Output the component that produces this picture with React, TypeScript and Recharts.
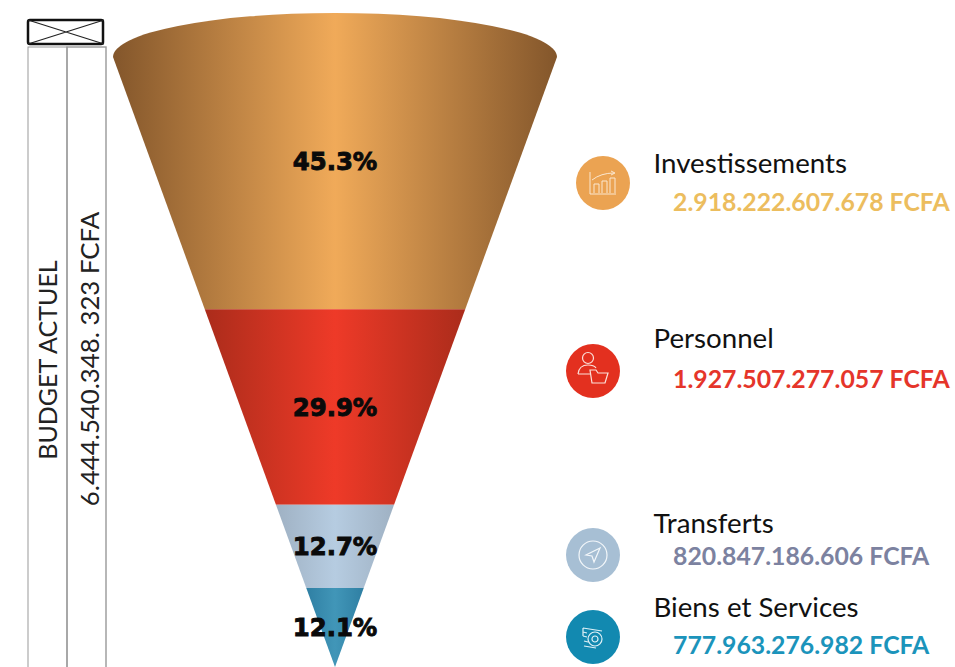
import React from 'react';
import { BarChart, Bar, XAxis, YAxis, LabelList } from 'recharts';

const categories = ['Investissements', 'Personnel', 'Transferts', 'Biens et Services'];
const amounts = [2918222607678, 1927507277057, 820847186606, 777963276982];
const shares = ['45.3%', '29.9%', '12.7%', '12.1%'];
const totalLabel = '6.444.540.348. 323 FCFA';
const budgetLabel = 'BUDGET ACTUEL';

const gradientEdges = ['#83562b', '#ab2c1b', '#9fb1c3', '#2f7fa3'];
const gradientCentres = ['#f0aa59', '#ee3a28', '#b6cce1', '#4196b8'];
const iconColors = ['#eba352', '#e3301f', '#a7bfd4', '#1289b0'];
const amountColors = ['#ecbd5e', '#e5352a', '#7c82a0', '#1b94bb'];

const row: Record<string, string | number> = { name: 'Budget' };
categories.forEach((c, i) => { row[c] = amounts[i]; });
const chartData = [row];
const total = amounts.reduce((a, b) => a + b, 0);

const formatAmount = (n: number) => String(n).replace(/\B(?=(\d{3})+$)/g, '.') + ' FCFA';

const RIM = 44; // height of the half ellipse closing the top of the cone

function ConeSlice(props: any) {
  const { x, y, width, height, background, gradient, first } = props;
  const apexY = background.y + background.height;
  const rimY = background.y + RIM;
  const mid = x + width / 2;
  const half = (py: number) => ((width / 2) * (apexY - py)) / (apexY - rimY);
  const top = Math.min(y, y + height);
  const bottom = Math.max(y, y + height);
  let d: string;
  if (first) {
    d = `M${mid - width / 2},${rimY} A${width / 2},${RIM} 0 0 1 ${mid + width / 2},${rimY} L${mid + half(bottom)},${bottom} L${mid - half(bottom)},${bottom} Z`;
  } else {
    d = `M${mid - half(top)},${top} L${mid + half(top)},${top} L${mid + half(bottom)},${bottom} L${mid - half(bottom)},${bottom} Z`;
  }
  return <path d={d} fill={`url(#${gradient})`} />;
}

const icons = [
  <g key="a" fill="none" stroke="#fbe7cf" strokeWidth="1">
    <path d="M-13,-11 V11 H13" />
    <path d="M-9,10 V1 H-4 V10 M-1,10 V-2 H4 V10 M7,10 V-5 H12 V10" />
    <path d="M-11,-3 Q-2,-10 11,-10 M8,-12 L12,-10 L8,-8" />
  </g>,
  <g key="b" fill="none" stroke="#fbe0da" strokeWidth="1.2">
    <circle cx="-5" cy="-13" r="5.5" />
    <path d="M-15,3 Q-14,-6 -5,-6 Q1,-6 3,-3 M-15,3 H-3" />
    <path d="M-3,-1 H3 L5,2 H15 L12,12 H-1 Z" />
  </g>,
  <g key="c" fill="none" stroke="#f3f7fa" strokeWidth="1.2">
    <circle cx="0" cy="0" r="14" />
    <path d="M7,-7 L-7,0 L-1,1 L1,7 Z" />
  </g>,
  <g key="d" fill="none" stroke="#dff1f7" strokeWidth="1.2">
    <circle cx="2" cy="2" r="7" />
    <circle cx="2" cy="2" r="3" />
    <path d="M-10,-9 L9,-6 M-10,-5 L-6,-4 M-10,-9 V-1 M-10,-1 L-6,0 M-9,4 L-5,5 M-9,9 L3,11" />
  </g>,
];

const iconCentres = [[603, 183], [593, 371], [593, 555], [593, 637]];
const nameY = [173, 348, 533, 617];
const amountY = [211, 388, 565, 654];

export default function App() {
  return (
    <div style={{ position: 'absolute', left: 0, top: 0, width: 955, height: 667, background: '#fff', overflow: 'hidden' }}>
      <svg width={955} height={667} style={{ position: 'absolute', left: 0, top: 0 }}>
        <rect x={28} y={20} width={75} height={24} rx={2} fill="#fff" stroke="#111" strokeWidth={2.5} />
        <path d="M28,20 L104,44 M104,20 L28,44" stroke="#222" strokeWidth={1.2} />
        <rect x={28} y={47} width={39} height={640} fill="none" stroke="#999" strokeWidth={1} />
        <rect x={67} y={47} width={39} height={640} fill="none" stroke="#999" strokeWidth={1.4} />
        <text transform="translate(57,360) rotate(-90)" textAnchor="middle" fontFamily="Lato" fontSize={25} fill="#222">{budgetLabel}</text>
        <text transform="translate(99,359) rotate(-90)" textAnchor="middle" fontFamily="Lato" fontSize={25.8} fill="#222">{totalLabel}</text>
        {categories.map((c, i) => (
          <g key={c}>
            <circle cx={iconCentres[i][0]} cy={iconCentres[i][1]} r={27} fill={iconColors[i]} />
            <g transform={`translate(${iconCentres[i][0]},${iconCentres[i][1]})`}>{icons[i]}</g>
            <text x={653.5} y={nameY[i]} fontFamily="Lato" fontSize={27.7} fill="#111">{c}</text>
            <text x={673} y={amountY[i]} fontFamily="Lato" fontWeight={700} fontSize={24.8} fill={amountColors[i]}>{formatAmount(amounts[i])}</text>
          </g>
        ))}
      </svg>
      <div style={{ position: 'absolute', left: 0, top: 0 }}>
        <BarChart
          width={955}
          height={667}
          data={chartData}
          margin={{ top: 13, right: 398, bottom: 0, left: 113 }}
          barCategoryGap={0}
          style={{ background: 'transparent' }}
        >
          <defs>
            {categories.map((c, i) => (
              <linearGradient key={c} id={`slice${i}`} x1="0" y1="0" x2="1" y2="0">
                <stop offset="0%" stopColor={gradientEdges[i]} />
                <stop offset="50%" stopColor={gradientCentres[i]} />
                <stop offset="100%" stopColor={gradientEdges[i]} />
              </linearGradient>
            ))}
          </defs>
          <XAxis dataKey="name" hide />
          <YAxis type="number" hide reversed domain={[0, total]} />
          {categories.map((c, i) => (
            <Bar
              key={c}
              dataKey={c}
              stackId="cone"
              isAnimationActive={false}
              shape={(p: any) => <ConeSlice {...p} gradient={`slice${i}`} first={i === 0} />}
            >
              <LabelList
                dataKey={c}
                position="center"
                formatter={() => shares[i]}
                fill="#0a0a0a"
                stroke="#0a0a0a"
                strokeWidth={0.9}
                fontFamily="DejaVu Sans"
                fontWeight={700}
                fontSize={24.4}
              />
            </Bar>
          ))}
        </BarChart>
      </div>
    </div>
  );
}
